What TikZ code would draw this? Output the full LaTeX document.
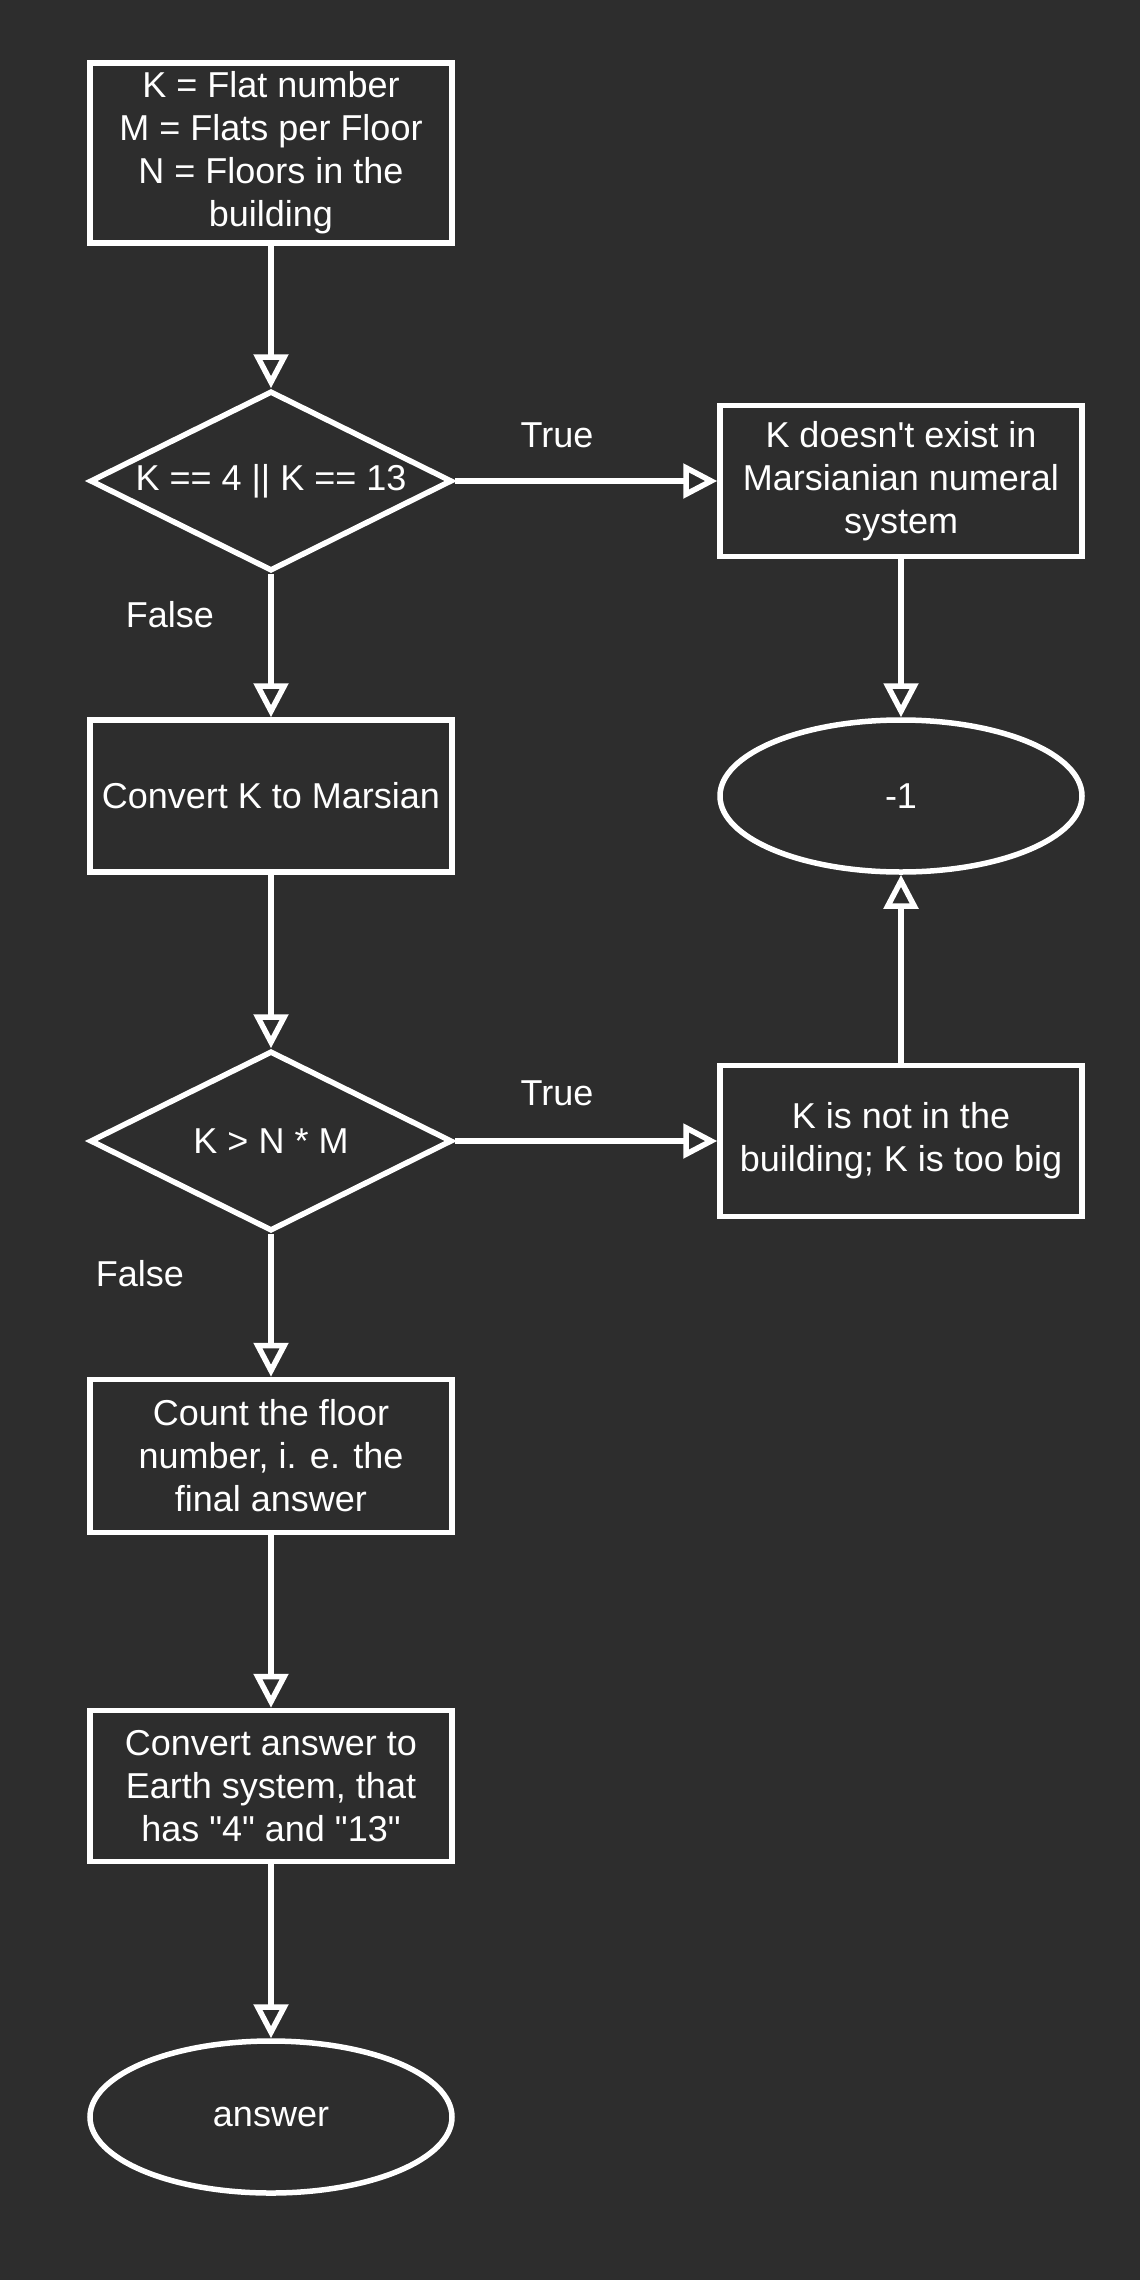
\documentclass[tikz,border=0pt]{standalone}
\usepackage{fontspec}
\setmainfont{Liberation Sans}
\usetikzlibrary{shapes.geometric,arrows.meta}
\definecolor{bg}{RGB}{45,45,45}
\tikzset{
  base/.style={draw=white, line width=5.5pt, fill=bg, text=white, inner sep=0pt,
    font=\fontsize{36}{43}\selectfont, align=center},
  boxnode/.style={base, rectangle, minimum width=362pt},
  ovalnode/.style={base, ellipse, minimum width=362pt, minimum height=152pt},
  decision/.style={base, diamond, minimum width=362pt, minimum height=180pt},
  lbl/.style={text=white, font=\fontsize{36}{43}\selectfont, inner sep=0pt},
  conn/.style={draw=white, line width=5.5pt, -{Triangle[open, length=34pt, width=34pt]}}
}
\begin{document}
\begin{tikzpicture}[x=1pt, y=-1pt]
\fill[bg] (0,0) rectangle (1140,2280);
\useasboundingbox (0,0) rectangle (1140,2280);

\node[boxnode, minimum height=180pt] (start) at (271,153) {K = Flat number\\M = Flats per Floor\\N = Floors in the\\building};
\node[decision] (d1) at (271,481) {\makebox[0pt]{K == 4 {||} K == 13}};
\node[boxnode, minimum height=151pt] (nexist) at (901,481) {K doesn\textquotesingle t exist in\\Marsianian numeral\\system};
\node[boxnode, minimum height=152pt] (conv) at (271,796) {Convert K to Marsian};
\node[ovalnode] (minus) at (901,796) {-1};
\node[decision] (d2) at (271,1141) {\makebox[0pt]{K > N * M}};
\node[boxnode, minimum height=151pt] (big) at (901,1141) {K is not in the\\building; K is too big};
\node[boxnode, minimum height=153pt] (count) at (271,1456) {Count the floor\\number, i. e. the\\final answer};
\node[boxnode, minimum height=151pt] (earth) at (271,1786) {Convert answer to\\Earth system, that\\has \textquotedbl 4\textquotedbl{} and \textquotedbl 13\textquotedbl};
\node[ovalnode] (answer) at (271,2117) {answer};

\node[lbl] (t1) at (557,435) {True};
\node[lbl] (f1) at (170,615) {False};
\node[lbl] (t2) at (557,1093) {True};
\node[lbl] (f2) at (140,1274) {False};

\draw[conn] (start.south) -- (d1.north);
\draw[conn] (d1.east) -- (nexist.west);
\draw[conn] (d1.south) -- (conv.north);
\draw[conn] (nexist.south) -- (minus.north);
\draw[conn] (conv.south) -- (d2.north);
\draw[conn] (d2.east) -- (big.west);
\draw[conn] (big.north) -- (minus.south);
\draw[conn] (d2.south) -- (count.north);
\draw[conn] (count.south) -- (earth.north);
\draw[conn] (earth.south) -- (answer.north);
\end{tikzpicture}
\end{document}
